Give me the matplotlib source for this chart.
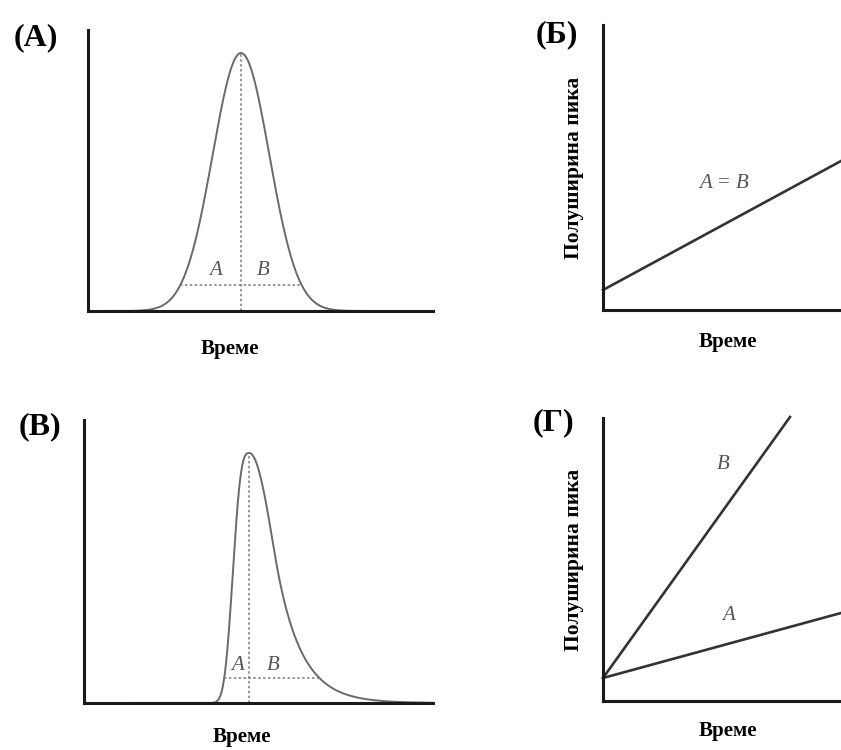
import numpy as np
import matplotlib
matplotlib.use("Agg")
import matplotlib.pyplot as plt

plt.rcParams['font.family'] = ['Liberation Serif', 'DejaVu Serif']

# ---------------- data (units: arbitrary time / width) ----
# Panel (А): symmetric Gaussian peak
peak_a_center = 153.0
peak_a_sigma = 28.3
peak_a_height = 258.0
peak_a_time = np.linspace(0, 345, 1200)

# Panel (В): tailing peak - steep front, Gaussian body with exponential tail
peak_v_mode = 165.3
peak_v_front_width = 19.0
peak_v_front_power = 3.0
peak_v_back_sigma = 25.0
peak_v_tail_start = 25.0
peak_v_height = 250.0
peak_v_time = np.linspace(0, 349, 1400)

# Panel (Б): half-width vs time, A = B
time_b = [0, 238]
width_b = [20, 149]

# Panel (Г): half-width vs time, separately for A and B
time_g_B = [0, 187]
width_g_B = [23, 284]
time_g_A = [0, 238]
width_g_A = [23, 88]

panel_labels = ['(А)', '(Б)', '(В)', '(Г)']
xlabel = 'Време'
ylabel = 'Полуширина пика'
level_frac = 0.10

# ---------------- figure ----------------------------------------------------
W, H = 841, 750
fig = plt.figure(figsize=(W / 100, H / 100), dpi=100)
fig.patch.set_facecolor('white')

AX_COLOR = '#1a1a1a'
CURVE_COLOR = '#6a6a6a'
LINE_COLOR = '#333333'
DASH_COLOR = '#7a7a7a'
TXT_GRAY = '#555555'


def add_ax(x0, y0, x1, y1):
    ax = fig.add_axes([x0 / W, 1 - y1 / H, (x1 - x0) / W, (y1 - y0) / H])
    ax.set_xlim(0, x1 - x0)
    ax.set_ylim(0, y1 - y0)
    for s in ('top', 'right'):
        ax.spines[s].set_visible(False)
    for s in ('left', 'bottom'):
        ax.spines[s].set_linewidth(2.2)
        ax.spines[s].set_color(AX_COLOR)
    ax.set_xticks([])
    ax.set_yticks([])
    ax.patch.set_alpha(0)
    return ax


def ftext(x, y, s, **kw):
    fig.text(x / W, 1 - y / H, s, ha='center', va='center', **kw)


def draw_peak(ax, t, y):
    ax.plot(t, y, color=CURVE_COLOR, lw=1.4, clip_on=False)
    imax = int(np.argmax(y))
    lvl = level_frac * y[imax]
    above = np.where(y >= lvl)[0]
    xl, xr = t[above[0]], t[above[-1]]
    ax.plot([t[imax], t[imax]], [0, y[imax]], color=DASH_COLOR, lw=1.1,
            ls=(0, (1.6, 1.6)))
    ax.plot([xl, xr], [lvl, lvl], color=DASH_COLOR, lw=1.1, ls=(0, (1.6, 1.6)))
    return t[imax], xl, xr


LBL = dict(style='italic', color=TXT_GRAY, fontsize=15, ha='center', va='center')
PNL = dict(fontsize=23, fontweight='bold')
XL = dict(fontsize=15, fontweight='bold')

# Panel (А)
axA = add_ax(88, 30, 433, 311)
yA = peak_a_height * np.exp(-0.5 * ((peak_a_time - peak_a_center) / peak_a_sigma) ** 2)
tm, xl, xr = draw_peak(axA, peak_a_time, yA)
axA.text(tm - 26, 41, 'A', **LBL)
axA.text(tm + 22, 41, 'B', **LBL)
ftext(36, 38, panel_labels[0], **PNL)
ftext(230, 349, xlabel, **XL)

# Panel (Б)
axB = add_ax(603, 25, 841, 310)
axB.plot(time_b, width_b, color=LINE_COLOR, lw=1.9, clip_on=False)
axB.text(121, 126, 'A = B', **LBL)
ftext(557, 35, panel_labels[1], **PNL)
ftext(728, 342, xlabel, **XL)
ftext(574, 168, ylabel, fontsize=15.5, fontweight='bold', rotation=90)

# Panel (В)
axV = add_ax(84, 420, 433, 703)
tv = peak_v_time
d = tv - peak_v_mode
s2 = peak_v_back_sigma ** 2
d0 = peak_v_tail_start
front = np.exp(-(np.abs(d) / peak_v_front_width) ** peak_v_front_power)
body = np.exp(-d ** 2 / (2 * s2))
tail = np.exp(-d0 ** 2 / (2 * s2) - d0 * (d - d0) / s2)
yV = peak_v_height * np.where(d < 0, front, np.where(d < d0, body, tail))
tm, xl, xr = draw_peak(axV, tv, yV)
axV.text(tm - 12, 38, 'A', **LBL)
axV.text(tm + 24, 38, 'B', **LBL)
ftext(40, 427, panel_labels[2], **PNL)
ftext(242, 737, xlabel, **XL)

# Panel (Г)
axG = add_ax(603, 418, 841, 701)
axG.plot(time_g_B, width_g_B, color=LINE_COLOR, lw=1.9, clip_on=False)
axG.plot(time_g_A, width_g_A, color=LINE_COLOR, lw=1.9, clip_on=False)
axG.text(120, 236, 'B', **LBL)
axG.text(126, 86, 'A', **LBL)
ftext(553, 423, panel_labels[3], **PNL)
ftext(728, 731, xlabel, **XL)
ftext(574, 560, ylabel, fontsize=15.5, fontweight='bold', rotation=90)

fig.savefig('out.png', dpi=100, facecolor='white')
